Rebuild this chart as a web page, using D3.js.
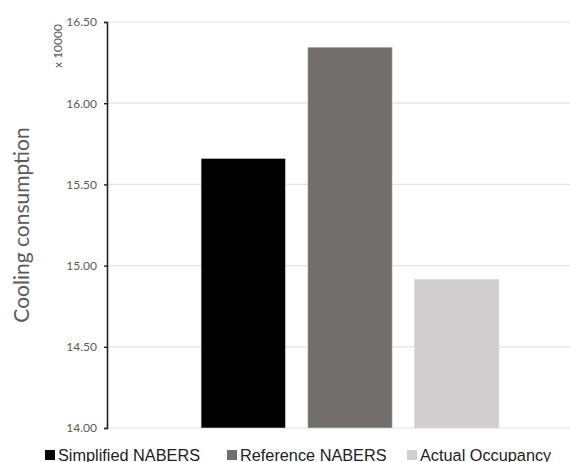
<!DOCTYPE html>
<html>
<head>
<meta charset="utf-8">
<script src="https://cdn.jsdelivr.net/npm/d3@7"></script>
<style>
  body { margin: 0; background: #fff; }
  .axis text { font-family: Lato, "Open Sans", sans-serif; }
</style>
</head>
<body>
<div class="chart"></div>
<script>
const series = ['Simplified NABERS', 'Reference NABERS', 'Actual Occupancy'];
const values = [15.66, 16.345, 14.915];
const colors = ['#000000', '#726e6d', '#d0cece'];
const yTicks = [14.0, 14.5, 15.0, 15.5, 16.0, 16.5];

const W = 570, H = 462;
const plotTop = 22, plotBottom = 428, plotLeft = 107;

const svg = d3.select('.chart')
  .append('svg')
  .attr('width', W)
  .attr('height', H);

const y = d3.scaleLinear().domain([14, 16.5]).range([plotBottom, plotTop]);
const x = d3.scaleBand().domain(series).range([137, 563])
  .paddingInner(0.21).paddingOuter(0.6);

// gridlines
svg.append('g')
  .selectAll('line')
  .data(yTicks)
  .join('line')
  .attr('x1', plotLeft).attr('x2', W)
  .attr('y1', d => y(d)).attr('y2', d => y(d))
  .attr('stroke', '#e3e3e3')
  .attr('stroke-width', 1.2);

// bars
svg.append('g')
  .selectAll('rect')
  .data(values)
  .join('rect')
  .attr('x', (d, i) => x(series[i]))
  .attr('width', x.bandwidth())
  .attr('y', d => y(d))
  .attr('height', d => plotBottom - y(d))
  .attr('fill', (d, i) => colors[i])
  .attr('stroke', '#d9d9d9')
  .attr('stroke-width', 0.6);

// y axis
const yAxis = d3.axisLeft(y)
  .tickValues(yTicks)
  .tickSize(3)
  .tickPadding(7)
  .tickFormat(d3.format('.2f'));

const ga = svg.append('g')
  .attr('class', 'axis')
  .attr('transform', `translate(${plotLeft},0)`)
  .call(yAxis);
ga.select('.domain').attr('stroke', '#222').attr('stroke-width', 1.6);
ga.selectAll('.tick line').attr('stroke', '#222').attr('stroke-width', 1.4);
ga.selectAll('.tick text').attr('fill', '#595959').attr('font-size', 12);

// axis titles
svg.append('text')
  .attr('transform', 'translate(29,225) rotate(-90)')
  .attr('text-anchor', 'middle')
  .attr('font-family', 'Lato, "Open Sans", sans-serif')
  .attr('font-size', 21)
  .attr('fill', '#595959')
  .text('Cooling consumption');

svg.append('text')
  .attr('transform', 'translate(62,46) rotate(-90)')
  .attr('text-anchor', 'middle')
  .attr('font-family', 'Lato, "Open Sans", sans-serif')
  .attr('font-size', 12)
  .attr('fill', '#595959')
  .text('x 10000');

// legend
const legendX = [45, 227, 407];
const lg = svg.append('g')
  .selectAll('g')
  .data(series)
  .join('g')
  .attr('transform', (d, i) => `translate(${legendX[i]},450)`);
lg.append('rect')
  .attr('width', 10).attr('height', 10)
  .attr('fill', (d, i) => colors[i]);
lg.append('text')
  .attr('x', 13).attr('y', 10.5)
  .attr('font-family', '"Liberation Sans", Arial, sans-serif')
  .attr('font-size', 16.3)
  .attr('fill', '#222')
  .text(d => d);
</script>
</body>
</html>
